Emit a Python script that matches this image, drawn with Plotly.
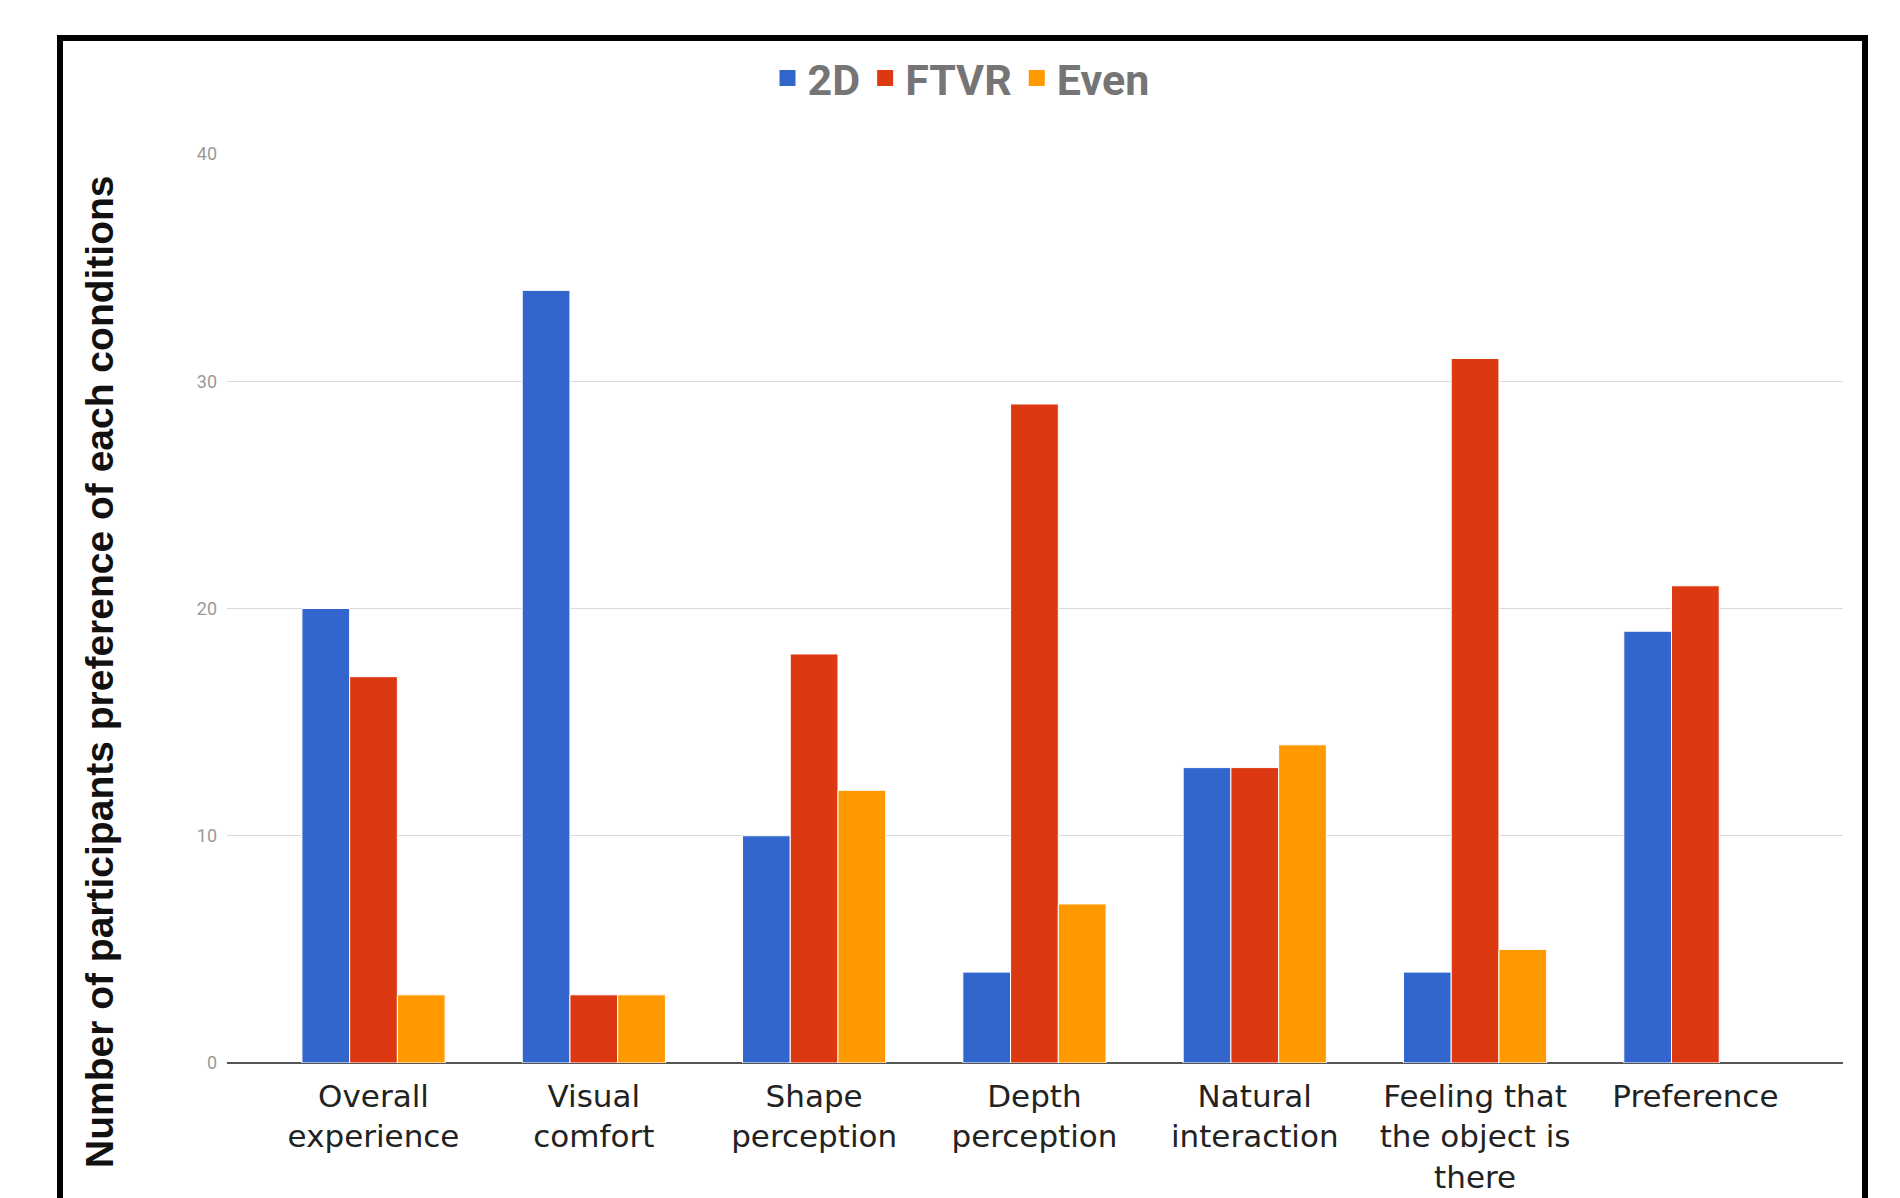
import plotly.graph_objects as go

categories = ["Overall<br>experience", "Visual<br>comfort", "Shape<br>perception",
              "Depth<br>perception", "Natural<br>interaction",
              "Feeling that<br>the object is<br>there", "Preference"]
series_names = ["2D", "FTVR", "Even"]
vals_2d = [20, 34, 10, 4, 13, 4, 19]
vals_ftvr = [17, 3, 18, 29, 13, 31, 21]
vals_even = [3, 3, 12, 7, 14, 5, 0]
colors = ["#3366CC", "#DC3912", "#FF9900"]
y_ticks = [0, 10, 20, 30, 40]

W, H = 1900, 1198
L, R, T, B = 227, 57, 154, 135
pw, ph = W - L - R, H - T - B

def px_x(x):
    return (x - L) / pw

def px_y(y):
    return (H - B - y) / ph

fig = go.Figure()
for name, vals, c in zip(series_names, [vals_2d, vals_ftvr, vals_even], colors):
    fig.add_trace(go.Bar(name=name, x=categories, y=vals, showlegend=False,
                         marker=dict(color=c, line=dict(color="white", width=[0 if v == 0 else 1 for v in vals]))))
for name, c in zip(series_names, colors):
    fig.add_trace(go.Scatter(name=name, x=[None], y=[None], mode="markers",
                             marker=dict(symbol="square", size=18, color=c)))

fig.update_layout(
    width=W, height=H,
    margin=dict(l=L, r=R, t=T, b=B, autoexpand=False),
    paper_bgcolor="white", plot_bgcolor="white",
    barmode="group", bargap=0.35, bargroupgap=0,
    font=dict(family="Roboto", color="#222222"),
    legend=dict(orientation="h", x=px_x(961), xanchor="center", y=px_y(78), yanchor="middle",
                font=dict(family="Roboto", size=43, color="#757575", weight="bold"),
                itemwidth=30, tracegroupgap=0),
    xaxis=dict(range=[-0.665, 6.67], tickfont=dict(size=31, color="#222222", family="DejaVu Sans"),
               showgrid=False, ticks="", ticklabelstandoff=12, automargin=False),
    yaxis=dict(range=[0, 40], tickvals=y_ticks, tickfont=dict(size=18, color="#9a9a9a", family="Roboto"),
               gridcolor="#d9d9d9", gridwidth=1, zeroline=True, zerolinecolor="#555555", zerolinewidth=1.5,
               ticklabelstandoff=9, showline=False, automargin=False),
    annotations=[dict(text="<b>Number of participants preference of each conditions</b>",
                      x=px_x(99), y=px_y(672), xref="paper", yref="paper", textangle=-90,
                      showarrow=False, font=dict(family="Liberation Sans", size=39, color="#111111"),
                      xanchor="center", yanchor="middle")],
    shapes=[dict(type="path", xref="paper", yref="paper",
                 path=f"M {px_x(60)} {px_y(1215)} L {px_x(60)} {px_y(38)} L {px_x(1865)} {px_y(38)} L {px_x(1865)} {px_y(1215)}",
                 line=dict(color="black", width=6))],
)

fig.write_html("out.html")
